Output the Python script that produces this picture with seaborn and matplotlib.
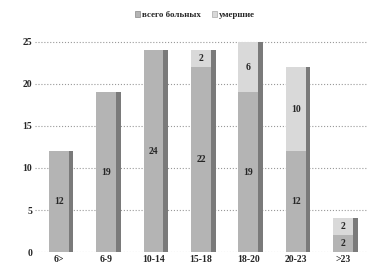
import pandas as pd
import seaborn as sns
import matplotlib.pyplot as plt
from matplotlib.patches import Patch

# данные
groups = ['6>', '6-9', '10-14', '15-18', '18-20', '20-23', '>23']
total = [12, 19, 24, 22, 19, 12, 2]
dead = [0, 0, 0, 2, 6, 10, 2]

df = pd.DataFrame({'group': groups, 'total': total, 'dead': dead})
df['sum'] = df['total'] + df['dead']

sns.set_style('white')
plt.rcParams['font.family'] = ['Liberation Serif', 'DejaVu Serif']

fig = plt.figure(figsize=(3.68, 2.67), dpi=100)
ax = fig.add_axes([0.095, 0.056, 0.902, 0.85])

w = 0.42
c_total = '#b4b4b4'
c_dead = '#d9d9d9'
c_side = '#7a7a7a'

# боковая грань (псевдо-3D)
x = range(len(groups))
ax.bar([i + w / 2 + 0.05 for i in x], df['sum'], width=0.1, color=c_side,
       linewidth=0, zorder=2)
sns.barplot(data=df, x='group', y='sum', color=c_dead, width=w, saturation=1,
            linewidth=0, ax=ax, zorder=3)
sns.barplot(data=df, x='group', y='total', color=c_total, width=w, saturation=1,
            linewidth=0, ax=ax, zorder=4)

# подписи значений
for i, (t, d) in enumerate(zip(total, dead)):
    ax.text(i, t / 2, str(t), ha='center', va='center', fontsize=7,
            fontweight='bold', zorder=5)
    if d:
        ax.text(i, t + d / 2, str(d), ha='center', va='center', fontsize=7,
                fontweight='bold', zorder=5)

ax.set_ylim(0, 27)
ax.set_xlim(-0.5, 6.5)
ax.set_yticks([0, 5, 10, 15, 20, 25])
ax.yaxis.grid(True, linestyle=':', color='#999999', linewidth=0.8)
ax.set_axisbelow(True)
for s in ax.spines.values():
    s.set_visible(False)
ax.tick_params(length=0, labelsize=7, pad=2)
for lab in ax.get_xticklabels() + ax.get_yticklabels():
    lab.set_fontweight('bold')
ax.set_xlabel('')
ax.set_ylabel('')

handles = [Patch(facecolor=c_total, edgecolor='#888888', linewidth=0.5),
           Patch(facecolor=c_dead, edgecolor='#aaaaaa', linewidth=0.5)]
fig.legend(handles, ['всего больных', 'умершие'], loc='upper center',
           bbox_to_anchor=(0.53, 0.99), ncol=2, frameon=False,
           handlelength=0.6, handleheight=0.6, handletextpad=0.2,
           columnspacing=1.2, prop={'weight': 'bold', 'size': 6.5})

fig.savefig('out.png', dpi=100)
